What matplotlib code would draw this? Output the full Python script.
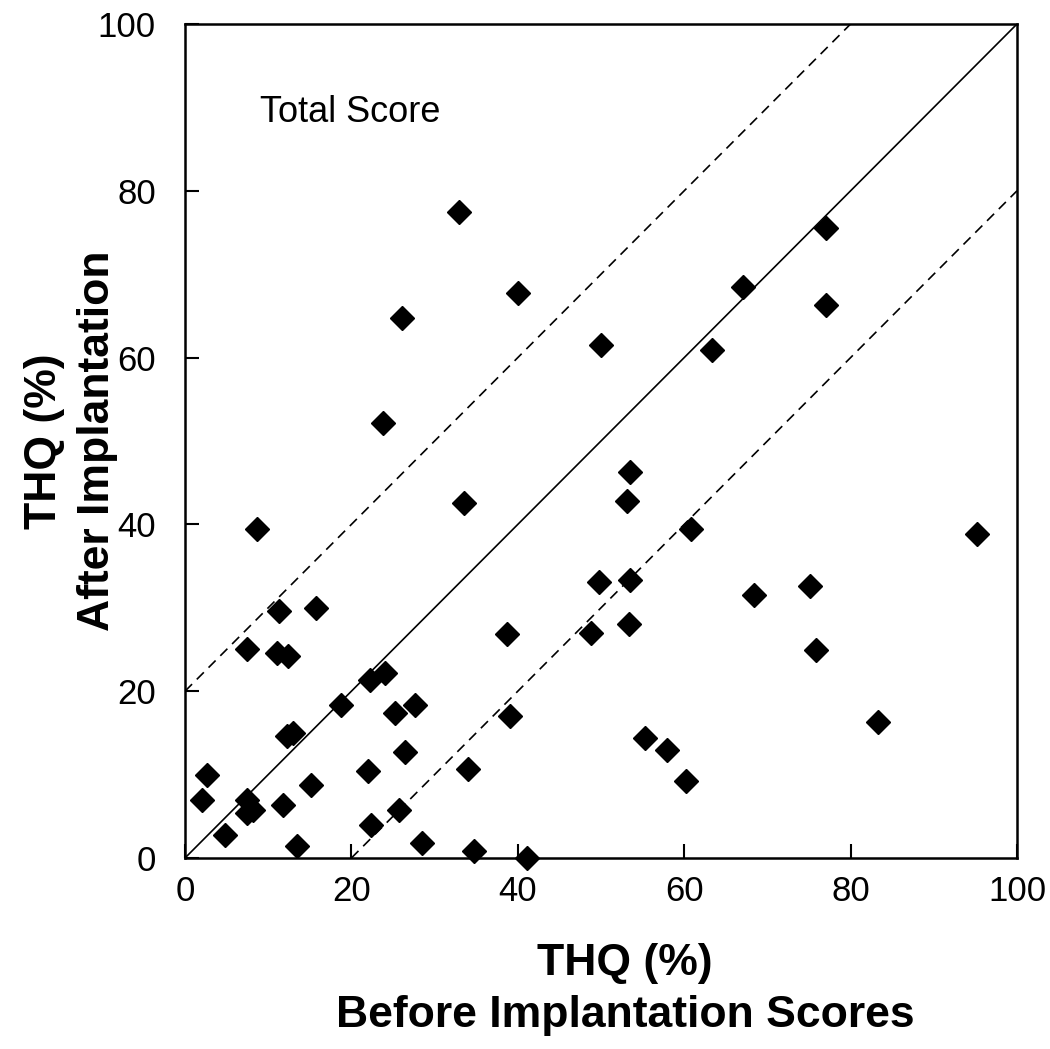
import matplotlib
matplotlib.use("Agg")
import matplotlib.pyplot as plt

plt.rcParams['font.family'] = ['Liberation Sans', 'DejaVu Sans']

# THQ total score, before vs after implantation (%)
before = [32.9, 40.0, 26.1, 23.8, 33.5, 8.7, 11.3, 15.7, 7.5, 11.1,
          12.4, 22.2, 24.0, 18.7, 25.2, 27.7, 12.3, 13.0, 26.4, 2.7,
          22.0, 34.0, 2.1, 7.4, 7.4, 8.2, 11.8, 15.2, 4.8, 13.5,
          22.3, 25.7, 28.5, 34.7, 41.1, 39.1, 38.7, 48.8, 53.4, 49.8,
          53.5, 55.3, 57.9, 60.2, 67.1, 50.0, 63.3, 77.1, 77.0, 53.5,
          53.1, 60.8, 68.4, 95.2, 75.1, 75.9, 83.3]
after = [77.4, 67.8, 64.8, 52.2, 42.6, 39.4, 29.6, 30.0, 25.1, 24.6,
         24.2, 21.4, 22.2, 18.4, 17.4, 18.4, 14.6, 15.0, 12.7, 10.0,
         10.4, 10.7, 7.0, 7.0, 5.4, 5.8, 6.4, 8.8, 2.8, 1.4,
         4.0, 5.8, 1.8, 0.8, 0.0, 17.0, 26.8, 27.0, 28.1, 33.1,
         33.3, 14.4, 12.9, 9.2, 68.5, 61.5, 60.9, 75.5, 66.3, 46.3,
         42.8, 39.4, 31.5, 38.9, 32.6, 25.0, 16.3]

identity = [0, 100]
upper_x, upper_y = [0, 80], [20, 100]
lower_x, lower_y = [20, 100], [0, 80]

fig = plt.figure(figsize=(10.5, 10.49), dpi=100)
ax = fig.add_axes([185 / 1050, 191 / 1049, 832 / 1050, 834 / 1049])

ax.plot(identity, identity, color='black', lw=1.2)
ax.plot(upper_x, upper_y, color='black', lw=1.2, dashes=(6, 4))
ax.plot(lower_x, lower_y, color='black', lw=1.2, dashes=(6, 4))
ax.plot(before, after, linestyle='none', marker='D', ms=12.5,
        color='black', clip_on=False, zorder=3)

ax.set_xlim(0, 100)
ax.set_ylim(0, 100)
ax.set_xticks([0, 20, 40, 60, 80, 100])
ax.set_yticks([0, 20, 40, 60, 80, 100])
ax.tick_params(direction='in', length=10, width=1.5, labelsize=25)
ax.tick_params(axis='x', pad=12)
ax.tick_params(axis='y', pad=21)
for s in ax.spines.values():
    s.set_linewidth(1.8)

ax.text(9.0, 89.4, 'Total Score', fontsize=26, va='center', ha='left')

ax.set_xlabel('THQ (%)\nBefore Implantation Scores', fontsize=32,
              fontweight='bold', linespacing=1.35)
ax.xaxis.set_label_coords(0.529, -0.102, transform=ax.transAxes)
ax.xaxis.label.set_va('top')
ax.set_ylabel('THQ (%)\nAfter Implantation', fontsize=32,
              fontweight='bold', linespacing=1.4)
ax.yaxis.set_label_coords(-0.08, 0.5, transform=ax.transAxes)
ax.yaxis.label.set_va('bottom')

fig.savefig('out.png', dpi=100)
